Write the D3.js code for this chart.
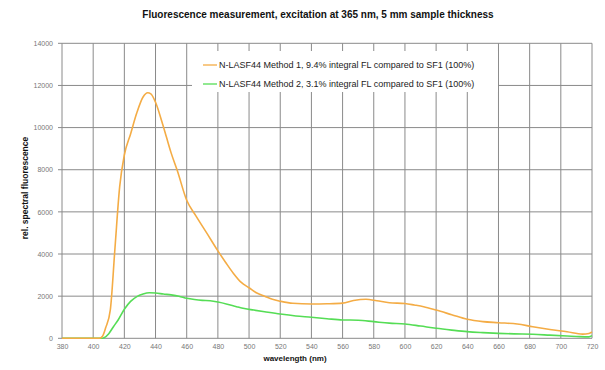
<!DOCTYPE html>
<html><head><meta charset="utf-8">
<script src="https://cdn.jsdelivr.net/npm/d3@7"></script>
<style>body{margin:0;background:#fff}svg{display:block}text{font-family:"Liberation Sans",Arial,sans-serif}</style>
</head><body><svg id="c" width="605" height="370"></svg>
<script>
const titleText = "Fluorescence measurement, excitation at 365 nm, 5 mm sample thickness";
const xTitle = "wavelength (nm)";
const yTitle = "rel. spectral fluorescence";
const seriesNames = ["N-LASF44 Method 1, 9.4% integral FL compared to SF1 (100%)",
                     "N-LASF44 Method 2, 3.1% integral FL compared to SF1 (100%)"];
const xTicks = [380,400,420,440,460,480,500,520,540,560,580,600,620,640,660,680,700,720];
const yTicks = [0,2000,4000,6000,8000,10000,12000,14000];

const wl1 = [380,400,404,406,408,411,414,417,420,424,428,432,435,437,440,444,447,450,454,460,466,473,480,485,490,495,500,505,510,515,520,528,540,550,560,567,575,582,590,600,606,612,620,630,640,650,660,672,682,693,704,714,718,720];
const method1 = [0,0,0,100,500,1350,4300,7200,8700,9700,10700,11450,11650,11600,11200,10300,9550,8800,7950,6550,5800,4980,4150,3600,3080,2650,2400,2150,2000,1850,1760,1660,1630,1640,1670,1790,1850,1780,1690,1650,1580,1500,1340,1120,900,790,740,680,550,420,310,200,230,300];

const wl2 = [380,405,407,410,413,416,420,424,428,432,436,440,445,450,455,460,465,470,475,480,486,492,497,503,510,520,530,540,550,560,570,580,590,600,610,620,630,640,650,660,670,682,693,704,712,718,720];
const method2 = [0,0,30,220,550,870,1380,1750,1980,2100,2160,2150,2100,2060,2000,1900,1840,1800,1780,1720,1620,1500,1410,1340,1260,1150,1060,1000,930,870,860,790,720,680,580,475,390,315,270,235,210,190,150,110,80,70,130];

const colors = ["#f4ac45","#55dd55"];
const svg = d3.select("#c");
const m = {l:62, r:592, t:43.3, b:338.3};
const x = d3.scaleLinear().domain([380,720]).range([m.l,m.r]);
const y = d3.scaleLinear().domain([0,14000]).range([m.b,m.t]);

// grid
svg.append("g").selectAll("line").data(xTicks).join("line")
  .attr("x1",d=>x(d)).attr("x2",d=>x(d)).attr("y1",m.t).attr("y2",m.b)
  .attr("stroke","#8a8a8a").attr("stroke-width",1);
svg.append("g").selectAll("line").data(yTicks).join("line")
  .attr("x1",m.l-4).attr("x2",m.r).attr("y1",d=>y(d)).attr("y2",d=>y(d))
  .attr("stroke","#8a8a8a").attr("stroke-width",1);

// axes labels
const xa = svg.append("g").attr("transform",`translate(0,${m.b})`)
  .call(d3.axisBottom(x).tickValues(xTicks).tickFormat(d3.format("d")).tickSize(0).tickPadding(6));
xa.select(".domain").remove();
xa.selectAll("text").attr("fill","#777").style("font-size","7px").style("font-family","Liberation Sans, Arial");
const ya = svg.append("g").attr("transform",`translate(${m.l},0)`)
  .call(d3.axisLeft(y).tickValues(yTicks).tickFormat(d3.format("d")).tickSize(0).tickPadding(9));
ya.select(".domain").remove();
ya.selectAll("text").attr("fill","#777").style("font-size","7px").style("font-family","Liberation Sans, Arial");

// legend background
svg.append("rect").attr("x",192).attr("y",51).attr("width",306).attr("height",41).attr("fill","#fff");

// lines
const line = d3.line().x(d=>x(d[0])).y(d=>y(d[1])).curve(d3.curveMonotoneX);
svg.append("path").datum(d3.zip(wl2,method2)).attr("d",line).attr("fill","none")
  .attr("stroke",colors[1]).attr("stroke-width",1.6);
svg.append("path").datum(d3.zip(wl1,method1)).attr("d",line).attr("fill","none")
  .attr("stroke",colors[0]).attr("stroke-width",1.6);

// legend
seriesNames.forEach((s,i)=>{
  const yy = 65 + i*19;
  svg.append("line").attr("x1",203).attr("x2",217).attr("y1",yy).attr("y2",yy)
    .attr("stroke",colors[i]).attr("stroke-width",1.3);
  svg.append("text").attr("x",219).attr("y",yy+3).text(s)
    .style("font-size","9px").attr("fill","#222");
});

// titles
svg.append("text").attr("x",318).attr("y",18).attr("text-anchor","middle")
  .style("font-size","10px").style("font-weight","bold").attr("fill","#111").text(titleText);
svg.append("text").attr("x",295).attr("y",361).attr("text-anchor","middle")
  .style("font-size","8px").style("font-weight","bold").attr("fill","#111").text(xTitle);
svg.append("text").attr("transform","translate(28,188) rotate(-90)").attr("text-anchor","middle")
  .style("font-size","8.5px").style("font-weight","bold").attr("fill","#111").text(yTitle);
</script></body></html>
